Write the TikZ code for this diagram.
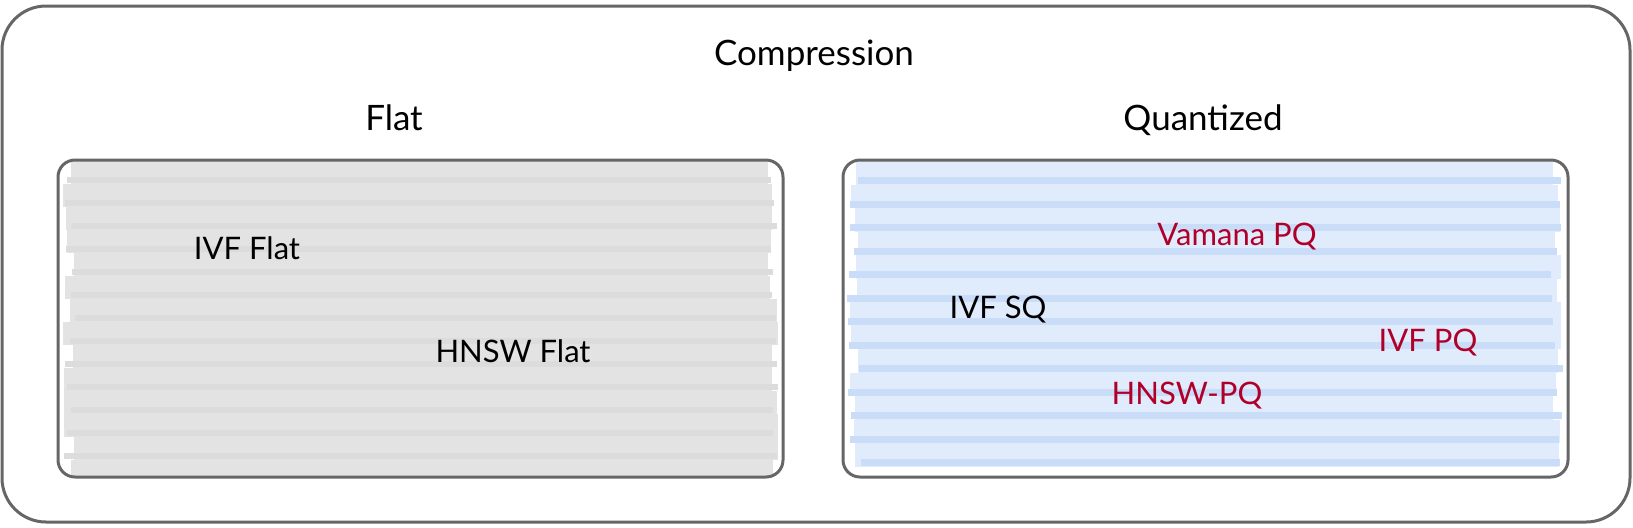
\documentclass[tikz,border=0pt]{standalone}
\usepackage{fontspec}
\setmainfont{Lato}
\usepackage{xcolor}
\usepackage{tikz}
\usetikzlibrary{positioning,calc}

\definecolor{framegray}{HTML}{666666}
\definecolor{flatbase}{HTML}{E3E3E3}
\definecolor{flatstripe}{HTML}{DCDCDC}
\definecolor{quantbase}{HTML}{E0EBFC}
\definecolor{quantstripe}{HTML}{C9DCF8}
\definecolor{pqred}{HTML}{B0002A}

\begin{document}
\begin{tikzpicture}[
  x=0.5pt,y=-0.5pt,
  every node/.style={font=\fontsize{15.5}{18}\selectfont,inner sep=0pt,anchor=base},
  outerbox/.style={rectangle,rounded corners=22pt,draw=framegray,line width=1.5pt,minimum width=814pt,minimum height=258pt,anchor=center},
  groupbox/.style={rectangle,rounded corners=8.5pt,draw=framegray,line width=1.5pt,minimum width=362.5pt,minimum height=158.5pt,anchor=center},
  title/.style={font=\fontsize{17.5}{21}\selectfont},
  method/.style={text=black},
  pqmethod/.style={text=pqred}
]
\useasboundingbox (0,0) rectangle (1633,527);

% hand-drawn hatching of the two groups
\pgfmathsetseed{11}
\begin{scope}
\clip[rounded corners=8.5pt] (58,160) rectangle (783,477);
\foreach \i in {0,...,13} {
  \pgfmathsetmacro\ya{161+\i*23}
  \pgfmathsetmacro\xa{62+rnd*14}
  \pgfmathsetmacro\xb{779-rnd*12}
  \fill[flatbase] (\xa,\ya) rectangle (\xb,\ya+23);
  \pgfmathsetmacro\xc{62+rnd*14}
  \pgfmathsetmacro\xd{779-rnd*12}
  \fill[flatstripe] (\xc,\ya+16) rectangle (\xd,\ya+22);
}
\end{scope}
\begin{scope}
\clip[rounded corners=8.5pt] (843,160) rectangle (1568,477);
\foreach \i in {0,...,12} {
  \pgfmathsetmacro\ya{161+\i*23.5}
  \pgfmathsetmacro\xa{847+rnd*14}
  \pgfmathsetmacro\xb{1564-rnd*14}
  \fill[quantbase] (\xa,\ya) rectangle (\xb,\ya+23.5);
  \pgfmathsetmacro\xc{847+rnd*14}
  \pgfmathsetmacro\xd{1564-rnd*14}
  \fill[quantstripe] (\xc,\ya+16) rectangle (\xd,\ya+23);
}
\end{scope}

\node[outerbox] (compbox) at (816,264) {};
\node[groupbox] (flatbox) at (420.5,318.5) {};
\node[groupbox] (quantbox) at (1205.5,318.5) {};

\node[title] (comp) at (814,65) {Compression};
\node[title] (flat) at (394,130) {Flat};
\node[title] (quant) at (1203,130) {Quantized};

\node[method] (ivfflat) at (247,259) {IVF Flat};
\node[method] (hnswflat) at (513,362) {HNSW Flat};
\node[pqmethod] (vamanapq) at (1237,245) {Vamana PQ};
\node[method] (ivfsq) at (998,318) {IVF SQ};
\node[pqmethod] (ivfpq) at (1428,351) {IVF PQ};
\node[pqmethod] (hnswpq) at (1187,404) {HNSW-PQ};
\end{tikzpicture}
\end{document}
